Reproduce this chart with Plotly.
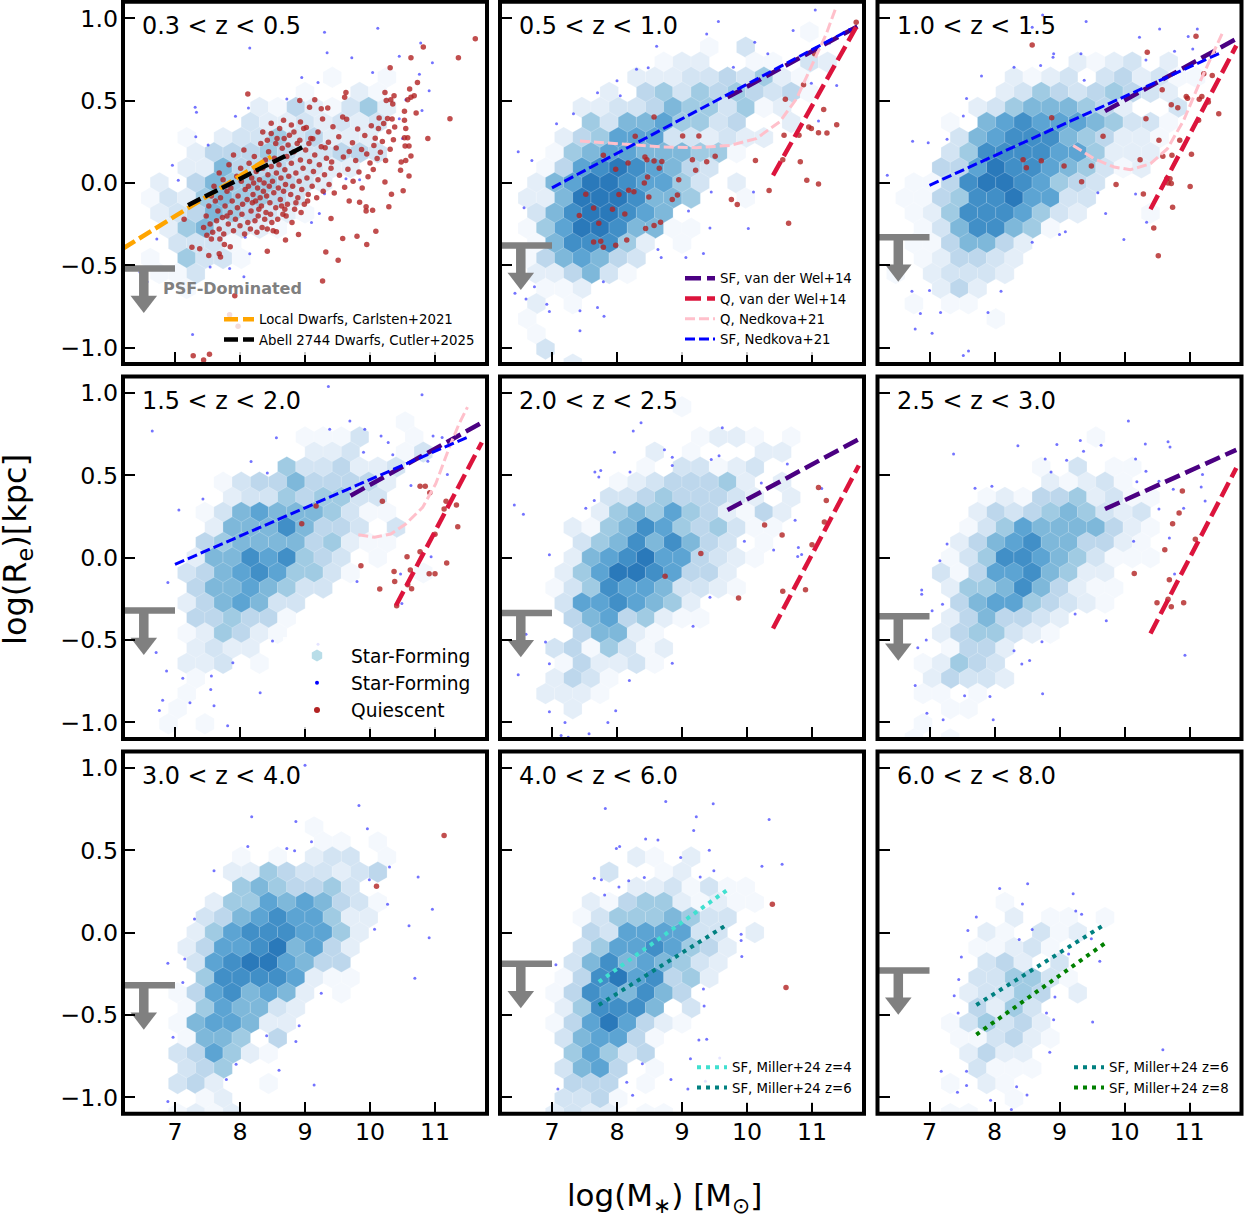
import plotly.graph_objects as go
from plotly.subplots import make_subplots

z_labels = ["0.3 < z < 0.5", "0.5 < z < 1.0", "1.0 < z < 1.5",
            "1.5 < z < 2.0", "2.0 < z < 2.5", "2.5 < z < 3.0",
            "3.0 < z < 4.0", "4.0 < z < 6.0", "6.0 < z < 8.0"]
x_ticks = [7, 8, 9, 10, 11]
y_ticks = [-1.0, -0.5, 0.0, 0.5, 1.0]
psf_limit = [-0.52, -0.38, -0.33, -0.32, -0.335, -0.355, -0.32, -0.19, -0.23]

# hexbin cells: (row, first column, shade of each cell), 0 = empty cell
hex_a = [(7, 11, "1001"), (6, 10, "10021"), (5, 7, "21421352"), (4, 7, "32232323"),
         (3, 3, "10233534222"), (2, 4, "24445433443"), (1, 3, "2264443322"),
         (0, 2, "2046555432"), (-1, 1, "132565543"), (-2, 2, "234654321"),
         (-3, 2, "2563321"), (-4, 3, "3331"), (-5, 1, "105331"), (-6, 2, "113"), (-7, 3, "1")]
hex_b = [(10, 17, "1"), (9, 11, "103"), (8, 9, "1220011032"), (7, 7, "2223343521"),
         (6, 6, "204535454341"), (5, 4, "223346553512"), (4, 5, "536675534002"),
         (3, 3, "245777332322"), (2, 3, "15677666551"), (1, 2, "1478987643"),
         (0, 2, "267998775302"), (-1, 1, "2269998665001"), (-2, 2, "36899876"),
         (-3, 1, "1579986611"), (-4, 2, "168885201"), (-5, 1, "1467643"), (-6, 2, "224631"),
         (-7, 2, "112"), (-8, 2, "201"), (-9, 1, "1"), (-10, 2, "1"), (-11, 2, "3"), (-12, 4, "2")]
hex_c = [(8, 11, "212302"), (7, 7, "21230342311"), (6, 7, "2354345432"), (5, 5, "235666542003"),
         (4, 4, "1067877765331"), (3, 4, "367888654221"), (2, 4, "358888775222"),
         (1, 3, "447988765312"), (0, 2, "11489987543"), (-1, 1, "11458897733"),
         (-2, 2, "12588875320001"), (-3, 2, "13688651"), (-4, 2, "1146642"), (-5, 2, "124432"),
         (-6, 1, "1023332"), (-7, 3, "242"), (-8, 2, "1011"), (-9, 6, "1")]
hex_d = [(9, 15, "1"), (8, 10, "1113001"), (7, 10, "2230013"), (6, 9, "5334223"),
         (5, 5, "1344644442"), (4, 6, "233545533"), (3, 4, "13676665311"), (2, 5, "26668644303"),
         (1, 4, "45666645211"), (0, 4, "26687854301"), (-1, 3, "34678755310001"),
         (-2, 4, "46676533"), (-3, 3, "2467633"), (-4, 4, "445441"), (-5, 3, "125421"),
         (-6, 4, "2322"), (-7, 3, "22301"), (-8, 4, "1"), (-9, 3, "1"), (-10, 3, "1"), (-11, 2, "101")]
hex_e = [(10, 10, "1"), (8, 11, "122101"), (7, 8, "20100022"), (6, 8, "1033123"),
         (5, 6, "1234445202"), (4, 6, "33454443202"), (3, 5, "25657542142"),
         (2, 4, "215687545311"), (1, 4, "35686864301"), (0, 4, "26789774321"),
         (-1, 3, "2579987442"), (-2, 3, "13587763321"), (-3, 3, "37787652"), (-4, 4, "46745211"),
         (-5, 4, "46621"), (-6, 3, "3415312"), (-7, 3, "142231"), (-8, 3, "2431"), (-9, 2, "2221"),
         (-10, 4, "2")]
hex_f = [(8, 12, "1"), (6, 9, "103011"), (5, 9, "21231"), (4, 6, "1214452311"),
         (3, 5, "2434565323"), (2, 5, "13576666421"), (1, 4, "24678664421"),
         (0, 4, "135887653111"), (-1, 3, "3147786522"), (-2, 4, "2556864211"),
         (-3, 4, "467754321"), (-4, 4, "2464432"), (-5, 3, "2455321"), (-6, 4, "1442"),
         (-7, 2, "12543"), (-8, 3, "24332"), (-9, 2, "1101"), (-10, 4, "11"), (-11, 2, "1"), (-12, 2, "101")]
hex_g = [(7, 10, "1"), (6, 11, "1101"), (5, 6, "101023301"), (4, 6, "225433234"), (3, 6, "5654453"),
         (2, 5, "2557676431"), (1, 4, "3467877522"), (0, 4, "2578887752"), (-1, 3, "2477896742"),
         (-2, 4, "378997644"), (-3, 4, "588887211"), (-4, 3, "1478676201"), (-5, 3, "1576632"),
         (-6, 3, "1677622"), (-7, 3, "166504"), (-8, 3, "347521"), (-9, 3, "345"),
         (-10, 3, "342001"), (-11, 4, "12"), (-12, 3, "1212")]
hex_h = [(5, 7, "2102"), (4, 6, "30012"), (3, 7, "2231311"), (2, 5, "2145521211"), (1, 4, "135556533"),
         (0, 5, "4377773302"), (-1, 4, "357787542"), (-2, 4, "368676532"), (-3, 3, "148978452"),
         (-4, 3, "14876864"), (-5, 3, "25888603"), (-6, 3, "14797421"), (-7, 3, "367741"),
         (-8, 4, "57534"), (-9, 3, "367401"), (-10, 4, "44401"), (-11, 3, "3341"), (-12, 3, "2322011")]
hex_i = [(2, 7, "1"), (1, 7, "201101"), (0, 6, "210312"), (-1, 5, "11231"), (-2, 6, "34203"),
         (-3, 5, "335531"), (-4, 5, "2335402"), (-5, 5, "4253"), (-6, 4, "135342"), (-7, 4, "113421"),
         (-8, 5, "2422"), (-9, 5, "3111"), (-10, 4, "1021"), (-11, 7, "1"), (-12, 4, "11")]
hex_shades = ["#FFFFFF", "#F4F8FD", "#E4EEF8", "#D3E4F3", "#BDD7EC", "#A0CBE3",
              "#7EB8DA", "#5CA4D3", "#418FC7", "#2A79BA"]

# star-forming galaxies
sf_a = [(9.30,0.915),(10.12,0.94),(8.15,0.82),(9.34,0.79),(9.72,0.76),(10.45,0.77),(10.78,0.85),(10.96,0.73),
        (10.04,0.67),(10.76,0.66),(10.91,0.56),(8.95,0.64),(9.2,0.61),(7.31,0.46),(7.33,0.43),(8.13,0.455),
        (7.93,0.405),(8.72,0.51),(10.55,0.505),(10.8,0.44),(10.45,0.39),(6.96,0.107),(7.05,0.016),(7.51,0.23),
        (7.32,0.28),(6.72,-0.34),(10.5,0.27),(9.63,0.026),(9.84,0.02),(9.3,-0.065),(9.1,-0.24),(9.22,-0.186),
        (8.08,-0.33),(7.54,-0.51),(7.84,-0.52),(8.06,-0.57),(6.46,-0.54),(6.57,-0.6),(7.27,-0.92),(8.15,-0.43)]
sf_b = [(11.05,1.05),(9.56,0.98),(10.71,0.925),(9.38,0.905),(10.12,0.855),(8.61,0.83),(8.48,0.70),(8.0,0.62),
        (8.3,0.69),(7.7,0.547),(8.05,0.53),(7.07,0.36),(7.33,0.42),(6.48,0.19),(6.69,0.137),(6.57,-0.15),
        (6.73,-0.63),(6.43,-0.67),(6.6,-0.705),(6.92,-0.737),(6.96,-0.78),(7.43,-0.897),(7.43,-0.776),(7.7,-0.756),
        (7.8,-0.81),(7.79,-0.6),(8.63,-0.404),(8.68,-0.453),(9.06,-0.453),(9.33,-0.428),(9.43,-0.273),(10.02,-0.277),
        (9.1,-0.17),(9.45,-0.055),(10.1,-0.055),(11.1,0.376),(11.38,0.592),(10.99,0.606),(10.32,0.784),(9.79,0.703),(11.27,0.85)]
sf_c = [(8.74,1.02),(9.41,0.98),(8.58,0.945),(10.54,0.935),(11.12,0.935),(10.98,0.89),(10.23,0.885),(8.91,0.784),
        (8.9,0.764),(8.71,0.713),(9.33,0.784),(10.33,0.747),(10.77,0.8),(11.05,0.814),(7.8,0.65),(8.3,0.703),
        (9.38,0.624),(7.57,0.513),(7.52,0.406),(7.27,0.265),(6.74,0.253),(6.98,0.244),(6.35,0.046),(9.71,-0.186),
        (9.59,-0.059),(10.17,-0.067),(10.34,-0.238),(9.99,-0.343),(9.09,-0.297),(9.0,-0.313),(8.58,-0.36),(8.1,-0.657),
        (7.0,-0.653),(6.73,-0.657),(6.86,-0.792),(7.17,-0.786),(6.78,-0.887),(7.04,-0.913),(7.52,-1.048),(7.6,-1.02),(7.9,-0.786)]
sf_d = [(9.36,1.04),(10.8,0.99),(6.65,0.77),(7.06,0.29),(9.92,0.78),(9.69,0.83),(9.38,0.78),(8.56,0.728),(10.17,0.74),
        (10.28,0.70),(9.90,0.64),(10.35,0.625),(8.17,0.584),(8.42,0.515),(10.97,0.74),(11.11,0.73),(10.89,0.586),
        (11.19,0.505),(10.63,0.438),(7.43,0.357),(6.89,-0.15),(6.71,-0.576),(6.87,-0.688),(7.12,-0.732),(7.56,-0.718),
        (7.55,-0.8),(7.89,-0.637),(8.31,-0.82),(6.81,-0.866),(7.23,-0.88),(6.76,-0.927),(7.6,-0.899),(7.81,-1.02),
        (10.47,-0.099),(9.8,-0.144),(10.94,0.006),(10.49,-0.278),(8.5,-0.505),(9.2,-0.525)]
sf_e = [(8.37,0.82),(8.25,0.77),(7.96,0.64),(8.73,0.656),(8.85,0.61),(8.85,0.56),(9.45,0.596),(9.57,0.62),(9.62,0.79),
        (7.66,0.52),(7.75,0.53),(7.72,0.49),(8.2,0.52),(7.65,0.347),(7.52,0.3),(6.42,0.32),(6.56,0.264),(6.96,0.018),
        (10.62,0.57),(10.22,0.454),(11.15,0.42),(10.74,0.227),(9.96,0.1),(10.41,0.047),(10.79,0.063),(10.78,0.008),
        (10.84,0.02),(9.43,-0.24),(9.17,-0.416),(8.85,-0.64),(8.19,-0.746),(6.96,-0.643),(6.48,-0.71),(6.9,-0.511),
        (6.96,-0.935),(7.2,-1.0),(7.98,-0.929),(7.86,-1.0),(7.57,-1.069),(7.14,-1.08),(7.25,-1.09),(6.6,-0.464)]
sf_f = [(10.06,0.83),(7.37,0.63),(8.36,0.68),(8.96,0.688),(9.32,0.712),(9.37,0.647),(9.64,0.683),(10.32,0.69),(10.67,0.704),
        (10.7,0.673),(8.78,0.6),(9.11,0.592),(10.17,0.6),(8.87,0.521),(10.33,0.525),(11.2,0.505),(7.7,0.422),(7.96,0.434),
        (10.19,0.462),(10.53,0.464),(10.75,0.416),(11.18,0.43),(11.24,0.345),(10.53,0.296),(10.91,0.3),(10.69,0.12),
        (10.14,0.1),(7.27,0.083),(7.16,-0.018),(10.77,-0.099),(6.88,-0.196),(6.88,-0.222),(7.2,-0.282),(7.04,-0.322),
        (9.24,-0.341),(9.72,-0.383),(6.95,-0.499),(6.82,-0.546),(8.3,-0.564),(8.73,-0.51),(8.54,-0.624),(8.42,-0.645),
        (10.93,-0.592),(6.78,-0.776),(7.54,-0.838),(7.93,-0.842),(8.74,-0.826),(6.96,-0.944),(7.21,-0.984),(7.98,-0.984)]
sf_g = [(9.0,1.016),(9.83,0.772),(8.18,0.703),(8.86,0.675),(9.96,0.63),(9.1,0.552),(8.12,0.523),(8.72,0.511),(8.84,0.497),
        (7.6,0.376),(10.3,0.398),(10.74,0.337),(9.99,0.321),(10.27,0.172),(10.96,0.141),(7.3,0.083),(10.07,0.02),(10.6,0.042),
        (10.91,-0.032),(10.69,-0.277),(6.89,-0.186),(7.15,-0.16),(7.12,-0.303),(9.25,-0.368),(8.91,-0.566),(6.97,-0.636),
        (8.41,-0.626),(8.86,-0.661),(7.94,-0.8),(8.6,-0.836),(7.79,-0.893),(9.14,-0.925),(6.89,-1.026)]
sf_h = [(8.75,0.796),(9.48,0.782),(7.82,0.754),(9.22,0.703),(10.34,0.687),(9.18,0.62),(8.44,0.568),(8.63,0.562),(8.04,0.523),
        (7.99,0.51),(9.42,0.5),(8.98,0.455),(10.54,0.414),(10.23,0.402),(9.49,0.376),(7.65,0.329),(7.76,0.32),(8.18,0.315),
        (8.42,0.335),(9.28,0.337),(8.03,0.277),(7.81,0.228),(9.91,-0.01),(9.91,-0.048),(9.92,-0.145),(7.06,-0.196),(9.33,-0.343),
        (9.34,-0.446),(9.26,-0.652),(9.38,-0.648),(9.13,-0.766),(9.58,-0.762),(8.39,-0.796),(8.83,-0.893),(8.15,-0.909),
        (9.36,-0.903),(9.09,-0.95),(7.09,-0.95),(8.24,-0.988)]
sf_i = [(8.08,0.267),(8.51,0.297),(8.43,0.174),(9.21,0.236),(7.72,0.095),(7.59,0.012),(9.25,0.131),(9.34,0.111),(8.58,0.018),
        (8.38,-0.042),(9.49,-0.038),(9.14,-0.131),(9.62,-0.174),(7.49,-0.149),(7.45,-0.285),(7.38,-0.384),(8.93,-0.392),
        (7.44,-0.489),(8.8,-0.489),(8.91,-0.529),(9.51,-0.543),(8.85,-0.727),(10.59,-0.711),(7.18,-0.842),(7.57,-0.842),
        (7.57,-0.929),(7.43,-0.97),(8.34,-0.937),(8.5,-0.986),(7.94,-1.018),(8.26,-1.075)]

# quiescent galaxies
q_a = [(11.62,0.875),(11.36,0.76),(10.82,0.825),(10.63,0.76),(10.31,0.70),(10.73,0.61),(10.61,0.57),(10.68,0.53),(10.63,0.52),
       (10.58,0.505),(10.23,0.55),(10.37,0.53),(9.63,0.55),(8.12,0.54),(8.92,0.5),(9.15,0.505),(9.07,0.46),(9.25,0.45),(9.35,0.455),
       (9.61,0.52),(10.25,0.5),(10.32,0.505),(10.35,0.48),(10.53,0.436),(10.71,0.424),(11.23,0.39),(10.89,0.27),(10.53,0.38),
       (10.55,0.33),(10.53,0.275),(10.58,0.275),(10.54,0.224),(10.6,0.224),(10.63,0.164),(10.55,0.137),(10.48,0.127),(10.47,0.077),
       (10.6,0.042),(10.23,0.006),(10.51,-0.048),(10.33,-0.069),(10.29,-0.145),(10.04,-0.166),(9.94,-0.145),(9.94,-0.17),
       (10.09,-0.293),(9.95,-0.374),(9.8,-0.323),(9.58,-0.337),(9.51,-0.469),(9.32,-0.42),(9.27,-0.596),(8.42,-0.414),(7.92,-0.685),
       (7.84,-0.8),(7.97,-0.87),(7.28,-1.05),(7.53,-1.04),(7.44,-1.075),(7.26,-0.39),(7.38,-0.40),(7.52,-0.44),(7.68,-0.43),(7.7,-0.45),
       (7.49,-0.317),(7.56,-0.34),(7.69,-0.34),(7.76,-0.374),(7.85,-0.388),(7.14,-0.22),(8.7,-0.347),(8.9,-0.313),(8.56,-0.297),
       (8.69,-0.16),(9.4,-0.216),(9.68,-0.11),(9.84,-0.117),
       # upper right of the cloud
       (8.48,0.362),(8.67,0.381),(8.79,0.352),(8.93,0.37),(9.02,0.337),(9.27,0.388),(9.43,0.342),(9.58,0.401),(9.64,0.387),(10.14,0.394),
       (10.21,0.361),(10.27,0.392),(10.34,0.388),(9.81,0.327),(10.02,0.348),(10.13,0.33),(10.29,0.311),(10.38,0.34),(9.92,0.288),(10.08,0.271),
       (10.19,0.252),(10.36,0.262),(9.73,0.244),(9.52,0.281),(9.36,0.247),(9.68,0.191),(9.87,0.203),(9.95,0.176),(10.06,0.228),(10.16,0.187),
       (10.31,0.205),(9.48,0.212),(9.59,0.158),(9.78,0.137),(10.0,0.121),(10.11,0.148),(10.24,0.137),(9.41,0.127),(9.66,0.083),(9.83,0.066),
       (9.97,0.038),(10.05,0.082),(9.53,0.047),(9.74,0.011),(9.88,-0.031),(9.61,-0.026),(9.45,-0.061),(9.2,0.31),(9.12,0.268),(9.31,0.214),
       # middle of the cloud
       (7.68,0.06),(7.74,0.02),(7.83,0.11),(7.86,-0.03),(7.9,0.17),(7.95,0.04),(7.97,-0.08),(8.01,0.09),(8.02,0.01),(8.04,-0.13),(8.06,0.2),
       (8.08,-0.04),(8.1,0.05),(8.11,-0.1),(8.13,-0.02),(8.14,0.12),(8.17,-0.17),(8.18,0.03),(8.2,-0.07),(8.21,0.0),(8.22,0.16),(8.24,-0.11),
       (8.25,0.07),(8.27,-0.03),(8.28,-0.2),(8.3,0.02),(8.31,-0.09),(8.32,0.24),(8.33,-0.14),(8.35,0.09),(8.36,-0.05),(8.37,0.0),(8.39,0.14),
       (8.4,-0.18),(8.41,-0.08),(8.43,0.05),(8.44,0.19),(8.45,-0.02),(8.46,-0.12),(8.48,0.1),(8.49,-0.24),(8.5,0.01),(8.52,-0.06),(8.53,0.15),
       (8.55,-0.15),(8.56,0.06),(8.57,0.27),(8.59,-0.03),(8.6,0.11),(8.62,-0.1),(8.63,0.03),(8.65,0.21),(8.66,-0.19),(8.67,-0.05),(8.69,0.08),
       (8.7,-0.01),(8.72,0.16),(8.73,-0.13),(8.75,0.04),(8.76,0.29),(8.78,-0.07),(8.79,0.12),(8.81,-0.02),(8.83,0.19),(8.84,-0.16),(8.86,0.06),
       (8.88,0.24),(8.89,-0.09),(8.91,0.01),(8.93,0.14),(8.95,-0.04),(8.97,0.09),(8.99,-0.13),(9.01,0.2),(9.03,0.03),(9.05,-0.07),(9.07,0.13),
       (9.09,0.27),(9.11,-0.02),(9.13,0.07),(9.15,0.17),(9.18,-0.09),(9.2,0.02),(9.22,0.11),(9.25,0.22),(9.28,-0.05),(9.3,0.05),(9.33,0.15),
       (9.37,-0.01),(9.4,0.09),(7.6,-0.02),(7.56,-0.08),(7.62,-0.11),(7.66,-0.17),(7.7,-0.09),(7.73,-0.21),(7.77,-0.14),(7.8,-0.05),(7.82,-0.25),
       (7.85,-0.18),(7.88,-0.11),(7.9,-0.29),(7.93,-0.22),(7.96,-0.15),(8.0,-0.26),(8.03,-0.19),(8.07,-0.31),(8.12,-0.24),(8.16,-0.28),(8.19,-0.12),
       (8.23,-0.23),(8.26,-0.3),(8.29,-0.16),(8.34,-0.27),(8.38,-0.22),(8.42,-0.28),(8.47,-0.19),(8.51,-0.29),(8.58,-0.22),(8.64,-0.14),(8.71,-0.2),
       (8.8,-0.24),(8.86,-0.12),(8.94,-0.18),(9.04,-0.11),(7.52,-0.14),(7.48,-0.2),(7.54,-0.25),(7.58,-0.3),(7.64,-0.23),(7.68,-0.28),(7.75,-0.31),
       (7.8,-0.2),(7.44,-0.27),(8.35,0.31),(8.42,0.26),(8.48,0.3),(8.55,0.24),(8.61,0.33),(8.68,0.27),(8.74,0.23),(8.83,0.31),(8.92,0.26),(8.98,0.33),
       (9.06,0.24)]
q_b = [(8.57,0.40),(8.28,0.283),(9.01,0.285),(9.26,0.285),(7.79,0.168),(8.43,0.158),(8.46,0.141),(8.57,0.133),(8.69,0.131),(8.17,0.121),
       (8.65,0.09),(7.98,0.083),(9.16,0.141),(9.38,0.129),(9.51,0.162),(9.21,0.077),(8.47,0.036),(8.42,0.0),(8.95,0.02),(8.18,-0.044),
       (8.26,-0.053),(8.03,-0.07),(7.52,-0.069),(8.49,-0.085),(8.93,-0.073),(8.85,-0.1),(7.64,-0.152),(7.93,-0.16),(7.42,-0.198),(8.12,-0.188),
       (7.72,-0.244),(8.44,-0.277),(8.57,-0.259),(8.67,-0.238),(8.15,-0.347),(7.75,-0.354),(7.64,-0.358),(7.79,-0.39),(7.98,-0.378),(9.76,-0.1),
       (9.85,-0.131),(10.34,-0.046),(10.13,0.137),(10.55,0.141),(10.82,0.129),(10.92,0.016),(11.1,-0.006),(10.64,-0.244),(10.8,0.289),(10.57,0.289),
       (10.95,0.339),(10.99,0.33),(11.1,0.305),(11.23,0.303),(11.38,0.354),(11.18,0.446),(10.87,0.596),(10.59,0.509),(11.04,0.784),(11.68,0.976)]
q_c = [(8.58,0.838),(10.35,0.794),(11.1,0.891),(8.88,0.396),(9.67,0.283),(10.58,0.566),(10.72,0.475),(10.82,0.457),(10.33,0.39),(10.95,0.525),
       (10.97,0.515),(11.15,0.509),(11.19,0.525),(11.22,0.663),(11.35,0.653),(11.29,0.491),(11.45,0.42),(11.14,0.38),(10.53,0.259),(10.85,0.259),
       (10.59,0.162),(10.73,0.168),(11.03,0.174),(10.24,0.141),(9.49,0.103),(9.07,0.103),(8.72,0.135),(8.44,0.141),(8.49,0.093),(9.34,0.008),
       (9.87,-0.01),(10.65,0.026),(10.7,0.026),(10.67,0.0),(10.72,-0.004),(11.01,-0.022),(10.29,-0.067),(10.74,-0.147),(10.45,-0.273),(10.52,-0.442)]
q_d = [(9.17,0.314),(8.95,0.207),(10.19,0.343),(10.77,0.434),(10.85,0.434),(10.92,0.394),(11.17,0.343),(11.33,0.32),(11.14,0.296),(11.35,0.189),
       (11.0,0.142),(10.77,0.036),(10.57,0.006),(9.86,-0.049),(11.18,-0.032),(10.37,-0.083),(10.62,-0.075),(10.91,-0.097),(11.0,-0.097),
       (10.38,-0.144),(10.58,-0.164),(10.64,-0.189),(10.15,-0.19),(10.41,-0.292)]
q_e = [(11.1,0.426),(11.22,0.347),(11.19,0.217),(11.0,0.079),(10.27,0.199),(10.54,0.138),(9.29,0.026),(8.74,-0.112),(10.55,-0.203),(10.9,-0.195),(9.87,-0.245)]
q_f = [(10.89,0.406),(10.84,0.272),(10.74,0.207),(11.09,0.112),(10.62,0.049),(10.15,-0.095),(10.69,-0.134),(10.67,-0.252),(10.5,-0.274),(10.72,-0.298),(10.91,-0.274)]
q_g = [(11.14,0.59),(10.1,0.281)]
q_h = [(10.39,0.172),(10.6,-0.333)]
q_i = []

# published relations
carlsten_x, carlsten_y = [6.2, 8.48], [-0.398, 0.16]
cutler_x, cutler_y = [7.2, 9.0], [-0.135, 0.225]
vdw_sf_x, vdw_q_x = [9.7, 11.72], [10.4, 11.72]
vdw_sf_y = {1: [0.52, 0.955], 2: [0.436, 0.875], 3: [0.377, 0.82], 4: [0.29, 0.72], 5: [0.296, 0.655]}
vdw_q_y = {1: [0.046, 0.975], 2: [-0.16, 0.834], 3: [-0.29, 0.70], 4: [-0.43, 0.56], 5: [-0.46, 0.545]}
ned_q_b_x = [7.43, 8.2, 8.71, 9.22, 9.74, 10.14, 10.5, 10.76, 11.01, 11.22, 11.37]
ned_q_b_y = [0.255, 0.234, 0.218, 0.214, 0.228, 0.269, 0.37, 0.51, 0.723, 0.905, 1.067]
ned_q_c_x = [9.21, 9.53, 9.84, 10.09, 10.4, 10.66, 10.91, 11.17, 11.5]
ned_q_c_y = [0.228, 0.147, 0.097, 0.08, 0.117, 0.208, 0.38, 0.622, 0.905]
ned_q_d_x = [9.82, 10.07, 10.32, 10.55, 10.81, 11.01, 11.22, 11.37, 11.5]
ned_q_d_y = [0.14, 0.124, 0.144, 0.205, 0.306, 0.448, 0.67, 0.813, 0.915]
ned_sf_b_x, ned_sf_b_y = [7.0, 11.6], [-0.03, 0.935]
ned_sf_c_x, ned_sf_c_y = [7.0, 11.5], [-0.014, 0.794]
ned_sf_d_x, ned_sf_d_y = [7.0, 11.5], [-0.04, 0.732]
miller_x = [7.72, 9.7]
miller_z4_y = [-0.30, 0.26]
miller_z6_y = [-0.44, 0.05]
miller_z8_y = [-0.62, -0.065]

hex_panels = [hex_a, hex_b, hex_c, hex_d, hex_e, hex_f, hex_g, hex_h, hex_i]
sf_panels = [sf_a, sf_b, sf_c, sf_d, sf_e, sf_f, sf_g, sf_h, sf_i]
q_panels = [q_a, q_b, q_c, q_d, q_e, q_f, q_g, q_h, q_i]

W, H = 1244, 1223
col_left = [123, 500, 877.5]
row_top = [1.8, 376.6, 751.4]
box_w, box_h = 364, 362.3
font = "DejaVu Sans"

fig = make_subplots(rows=3, cols=3)


def hex_cells(rows):
    xs, ys, cols = [], [], []
    for k, start, shades in rows:
        for n, s in enumerate(shades):
            if s == "0":
                continue
            x0 = 6.2 if k % 2 == 0 else 6.34
            xs.append(x0 + 0.28 * (start + n))
            ys.append(k * 1.1 / 12)
            cols.append(hex_shades[int(s)])
    return xs, ys, cols


def add_line(x, y, color, width, dash, row, col, name=None, legend=None):
    fig.add_trace(go.Scatter(x=x, y=y, mode="lines", name=name, showlegend=name is not None,
                             legend=legend, line=dict(color=color, width=width, dash=dash)),
                  row=row, col=col)


for i in range(9):
    r, c = i // 3 + 1, i % 3 + 1

    hx, hy, hc = hex_cells(hex_panels[i])
    fig.add_trace(go.Scatter(x=hx, y=hy, mode="markers", showlegend=False,
                             marker=dict(symbol="hexagon", size=21.4, color=hc,
                                         line=dict(color="rgba(255,255,255,0.45)", width=0.5))),
                  row=r, col=c)
    if sf_panels[i]:
        fig.add_trace(go.Scatter(x=[p[0] for p in sf_panels[i]], y=[p[1] for p in sf_panels[i]],
                                 mode="markers", showlegend=False,
                                 marker=dict(color="rgba(0,0,255,0.55)", size=3)), row=r, col=c)
    if q_panels[i]:
        fig.add_trace(go.Scatter(x=[p[0] for p in q_panels[i]], y=[p[1] for p in q_panels[i]],
                                 mode="markers", showlegend=False,
                                 marker=dict(color="rgba(178,34,34,0.8)", size=5.5)), row=r, col=c)

    # PSF limit with its downward arrow
    fig.add_trace(go.Scatter(x=[6.2, 7.0], y=[psf_limit[i]] * 2, mode="lines", showlegend=False,
                             line=dict(color="#808080", width=6.5)), row=r, col=c)
    fig.add_trace(go.Scatter(x=[6.52, 6.52], y=[psf_limit[i], psf_limit[i] - 0.19], mode="lines",
                             showlegend=False, line=dict(color="#808080", width=9.5)), row=r, col=c)
    fig.add_trace(go.Scatter(x=[6.52], y=[psf_limit[i] - 0.2], mode="markers", showlegend=False,
                             marker=dict(symbol="triangle-down", size=23, color="#808080")), row=r, col=c)

    fig.add_annotation(text=z_labels[i], xref=f"x{i + 1 if i else ''} domain", yref=f"y{i + 1 if i else ''} domain",
                       x=0.047, y=0.933, xanchor="left", yanchor="middle", showarrow=False,
                       font=dict(size=23.9, color="black", family=font))
    fig.add_shape(type="rect", xref=f"x{i + 1 if i else ''} domain", yref=f"y{i + 1 if i else ''} domain",
                  x0=0, x1=1, y0=0, y1=1, line=dict(color="black", width=4), layer="above")

    fig.update_xaxes(domain=[col_left[c - 1] / W, (col_left[c - 1] + box_w) / W], range=[6.2, 11.8],
                     tickvals=x_ticks, ticks="inside", ticklen=12, tickwidth=2.2, tickcolor="black",
                     showticklabels=r == 3, showgrid=False, zeroline=False, showline=False, ticklabelstandoff=2,
                     tickfont=dict(size=23.7, color="black", family=font), row=r, col=c)
    fig.update_yaxes(domain=[1 - (row_top[r - 1] + box_h) / H, 1 - row_top[r - 1] / H], range=[-1.1, 1.1],
                     tickvals=y_ticks, tickformat=".1f", ticks="inside", ticklen=12, tickwidth=2.2, tickcolor="black",
                     showticklabels=c == 1, showgrid=False, zeroline=False, showline=False, ticklabelstandoff=4,
                     tickfont=dict(size=23.7, color="black", family=font), row=r, col=c)

# panel 1
add_line(carlsten_x, carlsten_y, "orange", 4.5, "14px,5px", 1, 1, "Local Dwarfs, Carlsten+2021", "legend")
add_line(cutler_x, cutler_y, "black", 4.5, "14px,5px", 1, 1, "Abell 2744 Dwarfs, Cutler+2025", "legend")

# van der Wel and Nedkova relations
for i in range(1, 6):
    r, c = i // 3 + 1, i % 3 + 1
    add_line(vdw_sf_x, vdw_sf_y[i], "indigo", 4.5, "16px,6px", r, c, "SF, van der Wel+14" if i == 1 else None, "legend2")
    add_line(vdw_q_x, vdw_q_y[i], "crimson", 4.5, "16px,6px", r, c, "Q, van der Wel+14" if i == 1 else None, "legend2")
add_line(ned_q_b_x, ned_q_b_y, "pink", 3, "10px,4px", 1, 2, "Q, Nedkova+21", "legend2")
add_line(ned_sf_b_x, ned_sf_b_y, "blue", 3, "10px,4px", 1, 2, "SF, Nedkova+21", "legend2")
add_line(ned_q_c_x, ned_q_c_y, "pink", 3, "10px,4px", 1, 3)
add_line(ned_sf_c_x, ned_sf_c_y, "blue", 3, "10px,4px", 1, 3)
add_line(ned_q_d_x, ned_q_d_y, "pink", 3, "10px,4px", 2, 1)
add_line(ned_sf_d_x, ned_sf_d_y, "blue", 3, "10px,4px", 2, 1)

# Miller relations
add_line(miller_x, miller_z4_y, "turquoise", 4, "4px,5px", 3, 2, "SF, Miller+24 z=4", "legend4")
add_line(miller_x, miller_z6_y, "teal", 4, "4px,5px", 3, 2, "SF, Miller+24 z=6", "legend4")
add_line(miller_x, miller_z6_y, "teal", 4, "4px,5px", 3, 3, "SF, Miller+24 z=6", "legend5")
add_line(miller_x, miller_z8_y, "green", 4, "4px,5px", 3, 3, "SF, Miller+24 z=8", "legend5")

# class key in the 1.5 < z < 2.0 panel
for name, color, size, symbol in [("Star-Forming", "#B8DDE8", 12, "hexagon"),
                                  ("Star-Forming", "blue", 4, "circle"),
                                  ("Quiescent", "#B22222", 6, "circle")]:
    fig.add_trace(go.Scatter(x=[None], y=[None], mode="markers", name=name, legend="legend3",
                             marker=dict(symbol=symbol, color=color, size=size)), row=2, col=1)

fig.add_annotation(text="PSF-Dominated", xref="paper", yref="paper", x=161 / W, y=1 - 289 / H,
                   xanchor="left", yanchor="middle", showarrow=False,
                   font=dict(size=16, color="#808080", family="DejaVu Sans", weight="bold"))
fig.add_annotation(text="log(R<sub>e</sub>)[kpc]", xref="paper", yref="paper", x=17 / W, y=1 - 550 / H,
                   xanchor="center", yanchor="middle", textangle=-90, showarrow=False,
                   font=dict(size=32, color="black", family=font))
fig.add_annotation(text="log(M<sub>∗</sub>) [M<sub>⊙</sub>]", xref="paper", yref="paper", x=664 / W, y=1 - 1197 / H,
                   xanchor="center", yanchor="middle", showarrow=False,
                   font=dict(size=31, color="black", family=font))


def legend_at(left, top, size, item=30):
    return dict(x=left / W, y=1 - top / H, xanchor="left", yanchor="top", bgcolor="rgba(255,255,255,0.8)",
                font=dict(size=size, color="black", family=font), itemsizing="trace", traceorder="normal",
                itemwidth=item)


fig.update_layout(width=W, height=H, margin=dict(l=0, r=0, t=0, b=0), plot_bgcolor="white", paper_bgcolor="white",
                  font=dict(family=font),
                  legend=legend_at(219, 304, 13.3), legend2=legend_at(680, 263, 13.3),
                  legend3=legend_at(283, 637, 18.6, 58), legend4=legend_at(692, 1052, 13.3),
                  legend5=legend_at(1069, 1052, 13.3))

fig.write_html("out.html", config={"displayModeBar": False},
               post_script="document.body.style.margin='0';document.documentElement.style.overflow='hidden';")
